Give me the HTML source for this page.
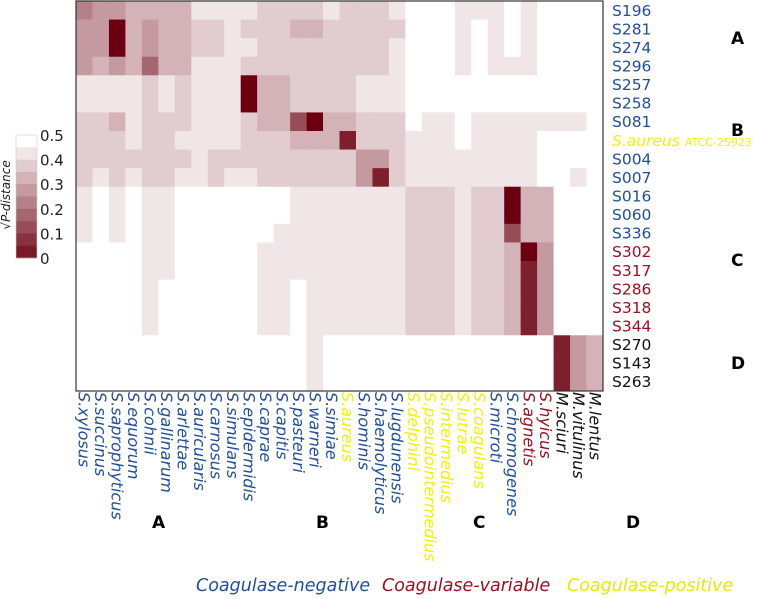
<!DOCTYPE html>
<html><head><meta charset="utf-8">
<style>
html,body{margin:0;padding:0;background:#fff;}
svg{display:block;font-family:"DejaVu Sans","Liberation Sans",sans-serif;}
</style></head>
<body>
<svg id="chart" width="762" height="599" viewBox="0 0 762 599"></svg>
<script>
const colLabels=["S.xylosus","S.succinus","S.saprophyticus","S.equorum","S.cohnii","S.gallinarum","S.arlettae","S.auricularis","S.carnosus","S.simulans","S.epidermidis","S.caprae","S.capitis","S.pasteuri","S.warneri","S.simiae","S.aureus","S.hominis","S.haemolyticus","S.lugdunensis","S.delphini","S.pseudointermedius","S.intermedius","S.lutrae","S.coagulans","S.microti","S.chromogenes","S.agnetis","S.hyicus","M.sciuri","M.vitulinus","M.lentus"];
const colGroups=["n","n","n","n","n","n","n","n","n","n","n","n","n","n","n","n","p","n","n","n","p","p","p","p","p","n","n","v","v","k","k","k"];
const rowLabels=["S196","S281","S274","S296","S257","S258","S081","S.aureus","S004","S007","S016","S060","S336","S302","S317","S286","S318","S344","S270","S143","S263"];
const rowGroups=["n","n","n","n","n","n","n","p","n","n","n","n","n","v","v","v","v","v","k","k","k"];
const cbTicks=[0.5,0.4,0.3,0.2,0.1,0];
const rowS196=[.25,.3,.3,.35,.35,.35,.35,.45,.45,.45,.45,.4,.4,.4,.4,.45,.4,.4,.4,.45,.5,.5,.5,.45,.45,.45,.5,.45,.5,.5,.5,.5];
const rowS281=[.3,.3,0,.35,.3,.35,.35,.4,.4,.45,.4,.4,.4,.35,.35,.4,.4,.4,.4,.4,.5,.5,.5,.45,.5,.45,.5,.45,.5,.5,.5,.5];
const rowS274=[.3,.3,0,.35,.3,.35,.35,.4,.4,.45,.45,.4,.4,.4,.4,.4,.4,.4,.4,.45,.5,.5,.5,.45,.5,.45,.5,.45,.5,.5,.5,.5];
const rowS296=[.3,.35,.3,.35,.2,.35,.35,.45,.45,.45,.4,.4,.4,.4,.4,.4,.4,.4,.4,.45,.5,.5,.5,.45,.5,.45,.45,.45,.5,.5,.5,.5];
const rowS257=[.45,.45,.45,.45,.4,.45,.4,.45,.45,.45,0,.35,.35,.4,.4,.4,.4,.45,.45,.45,.5,.5,.5,.5,.5,.5,.5,.5,.5,.5,.5,.5];
const rowS258=[.45,.45,.45,.45,.4,.45,.4,.45,.45,.45,0,.35,.35,.4,.4,.4,.4,.45,.45,.45,.5,.5,.5,.5,.5,.5,.5,.5,.5,.5,.5,.5];
const rowS081=[.4,.4,.35,.45,.4,.4,.4,.45,.45,.45,.4,.35,.35,.15,0,.35,.35,.4,.4,.4,.5,.45,.45,.5,.45,.45,.45,.45,.45,.45,.45,.5];
const rowAureus=[.4,.4,.4,.45,.4,.4,.45,.45,.45,.45,.4,.4,.4,.35,.35,.35,.06,.4,.4,.4,.45,.45,.45,.5,.45,.45,.45,.45,.5,.5,.5,.5];
const rowS004=[.4,.4,.4,.4,.4,.4,.4,.45,.4,.4,.4,.4,.4,.4,.4,.4,.4,.3,.3,.4,.45,.45,.45,.45,.45,.45,.45,.45,.5,.5,.5,.5];
const rowS007=[.4,.45,.4,.45,.4,.4,.45,.45,.4,.45,.45,.4,.4,.4,.4,.4,.4,.3,.06,.4,.45,.45,.45,.45,.45,.45,.45,.45,.5,.5,.45,.5];
const rowS016=[.45,.5,.45,.5,.45,.45,.5,.5,.5,.5,.5,.5,.5,.45,.45,.45,.45,.45,.45,.45,.4,.4,.4,.45,.4,.4,0,.35,.35,.5,.5,.5];
const rowS060=[.45,.5,.45,.5,.45,.45,.5,.5,.5,.5,.5,.5,.5,.45,.45,.45,.45,.45,.45,.45,.4,.4,.4,.45,.4,.4,0,.35,.35,.5,.5,.5];
const rowS336=[.45,.5,.45,.5,.45,.45,.5,.5,.5,.5,.5,.5,.45,.45,.45,.45,.45,.45,.45,.45,.4,.4,.4,.45,.4,.4,.15,.35,.35,.5,.5,.5];
const rowS302=[.5,.5,.5,.5,.45,.45,.5,.5,.5,.5,.5,.45,.45,.45,.45,.45,.45,.45,.45,.45,.4,.4,.4,.45,.4,.4,.35,0,.3,.5,.5,.5];
const rowS317=[.5,.5,.5,.5,.45,.45,.5,.5,.5,.5,.5,.45,.45,.45,.45,.45,.45,.45,.45,.45,.4,.4,.4,.45,.4,.4,.35,.06,.3,.5,.5,.5];
const rowS286=[.5,.5,.5,.5,.45,.5,.5,.5,.5,.5,.5,.45,.45,.5,.45,.45,.45,.45,.45,.45,.4,.4,.4,.45,.4,.4,.35,.06,.3,.5,.5,.5];
const rowS318=[.5,.5,.5,.5,.45,.5,.5,.5,.5,.5,.5,.45,.45,.5,.45,.45,.45,.45,.45,.45,.4,.4,.4,.45,.4,.4,.35,.06,.3,.5,.5,.5];
const rowS344=[.5,.5,.5,.5,.45,.5,.5,.5,.5,.5,.5,.45,.45,.5,.45,.45,.45,.45,.45,.45,.4,.4,.4,.45,.4,.4,.35,.06,.3,.5,.5,.5];
const rowS270=[.5,.5,.5,.5,.5,.5,.5,.5,.5,.5,.5,.5,.5,.5,.45,.5,.5,.5,.5,.5,.5,.5,.5,.5,.5,.5,.5,.5,.5,.06,.3,.35];
const rowS143=[.5,.5,.5,.5,.5,.5,.5,.5,.5,.5,.5,.5,.5,.5,.45,.5,.5,.5,.5,.5,.5,.5,.5,.5,.5,.5,.5,.5,.5,.06,.3,.35];
const rowS263=[.5,.5,.5,.5,.5,.5,.5,.5,.5,.5,.5,.5,.5,.5,.45,.5,.5,.5,.5,.5,.5,.5,.5,.5,.5,.5,.5,.5,.5,.06,.3,.35];
const matrix=[rowS196,rowS281,rowS274,rowS296,rowS257,rowS258,rowS081,rowAureus,rowS004,rowS007,rowS016,rowS060,rowS336,rowS302,rowS317,rowS286,rowS318,rowS344,rowS270,rowS143,rowS263];

const NS="http://www.w3.org/2000/svg";
const svg=document.getElementById('chart');
const X0=76,X1=603,Y0=1,Y1=391;
const cw=(X1-X0)/colLabels.length, rh=(Y1-Y0)/rowLabels.length;
const xScale=i=>X0+i*cw, yScale=i=>Y0+i*rh;
const gc={n:"#1f4f9c",p:"#f2f200",v:"#9b1020",k:"#111"};
function color(v){const t=Math.max(0,Math.min(1,(0.5-v)/0.5));
 const r=Math.round(255-t*(255-107)),g=Math.round(255-t*255),b=Math.round(255-t*(255-16));
 return `rgb(${r},${g},${b})`;}
function mk(tag,attrs){const e=document.createElementNS(NS,tag);for(const k in attrs)e.setAttribute(k,attrs[k]);svg.appendChild(e);return e;}

matrix.forEach((row,ri)=>row.forEach((v,ci)=>{
 const r=mk('rect',{x:xScale(ci),y:yScale(ri),width:cw+0.3,height:rh+0.3,fill:color(v)});
 
 
}));
const frame=mk('rect',{x:X0,y:Y0,width:X1-X0,height:Y1-Y0,fill:'none',stroke:'#333','stroke-width':1.2});



rowLabels.forEach((l,i)=>{
 const t=mk('text',{x:612,y:yScale(i)+rh/2+5.5,'font-size':15.5,fill:gc[rowGroups[i]]});
 
 
 if(l==="S.aureus"){t.setAttribute('font-style','italic');t.textContent="S.aureus ";
  const s=document.createElementNS(NS,'tspan');s.setAttribute('font-size',11);s.setAttribute('font-style','normal');s.textContent="ATCC-25923";t.appendChild(s);}
 else t.textContent=l;
});
colLabels.forEach((l,i)=>{
 const cx=xScale(i)+cw/2-5.5;
 const t=mk('text',{x:cx,y:392,'font-size':16,'font-style':'italic',fill:gc[colGroups[i]],transform:`rotate(90 ${cx} 392)`});
 
 
 t.textContent=l;
});
// colorbar
const cbX=16,cbW=21,cbTop=135,cbBot=258,nb=10;
for(let k=0;k<nb;k++){
 const v=0.5-k*0.05;
 const r=mk('rect',{x:cbX,y:cbTop+k*(cbBot-cbTop)/nb,width:cbW,height:(cbBot-cbTop)/nb+0.3,fill:color(v)});
 
 
}
const cbf=mk('rect',{x:cbX,y:cbTop,width:cbW,height:cbBot-cbTop,fill:'none',stroke:'#ccc','stroke-width':0.6});


const cbPos=v=>cbTop+(0.5-v)/0.5*(cbBot-cbTop);
cbTicks.forEach(v=>{
 const t=mk('text',{x:40,y:cbPos(v)+6,'font-size':15,fill:'#222'});
 
 
 t.textContent=String(v);
});
</script>
<div style="position:absolute;left:0;top:0;width:762px;height:599px;pointer-events:none;font-family:'DejaVu Sans','Liberation Sans',sans-serif;">
<div style="position:absolute;left:-34px;top:188px;width:80px;text-align:center;font-size:12px;font-style:italic;color:#222;transform:rotate(-90deg);">√P-distance</div>
<div style="position:absolute;left:731px;top:29px;font-weight:bold;font-size:17px;">A</div>
<div style="position:absolute;left:731px;top:121px;font-weight:bold;font-size:17px;">B</div>
<div style="position:absolute;left:731px;top:251px;font-weight:bold;font-size:17px;">C</div>
<div style="position:absolute;left:731px;top:354px;font-weight:bold;font-size:17px;">D</div>
<div style="position:absolute;left:152px;top:513px;font-weight:bold;font-size:17px;">A</div>
<div style="position:absolute;left:316px;top:513px;font-weight:bold;font-size:17px;">B</div>
<div style="position:absolute;left:473px;top:513px;font-weight:bold;font-size:17px;">C</div>
<div style="position:absolute;left:626px;top:513px;font-weight:bold;font-size:17px;">D</div>
<div style="position:absolute;left:196px;top:576px;font-size:17.5px;font-style:italic;color:#1f4f9c;white-space:nowrap;">Coagulase-negative</div>
<div style="position:absolute;left:382px;top:576px;font-size:17.5px;font-style:italic;color:#9b1020;white-space:nowrap;">Coagulase-variable</div>
<div style="position:absolute;left:567px;top:576px;font-size:17.5px;font-style:italic;color:#e8e800;white-space:nowrap;">Coagulase-positive</div>
</div>
</body></html>
